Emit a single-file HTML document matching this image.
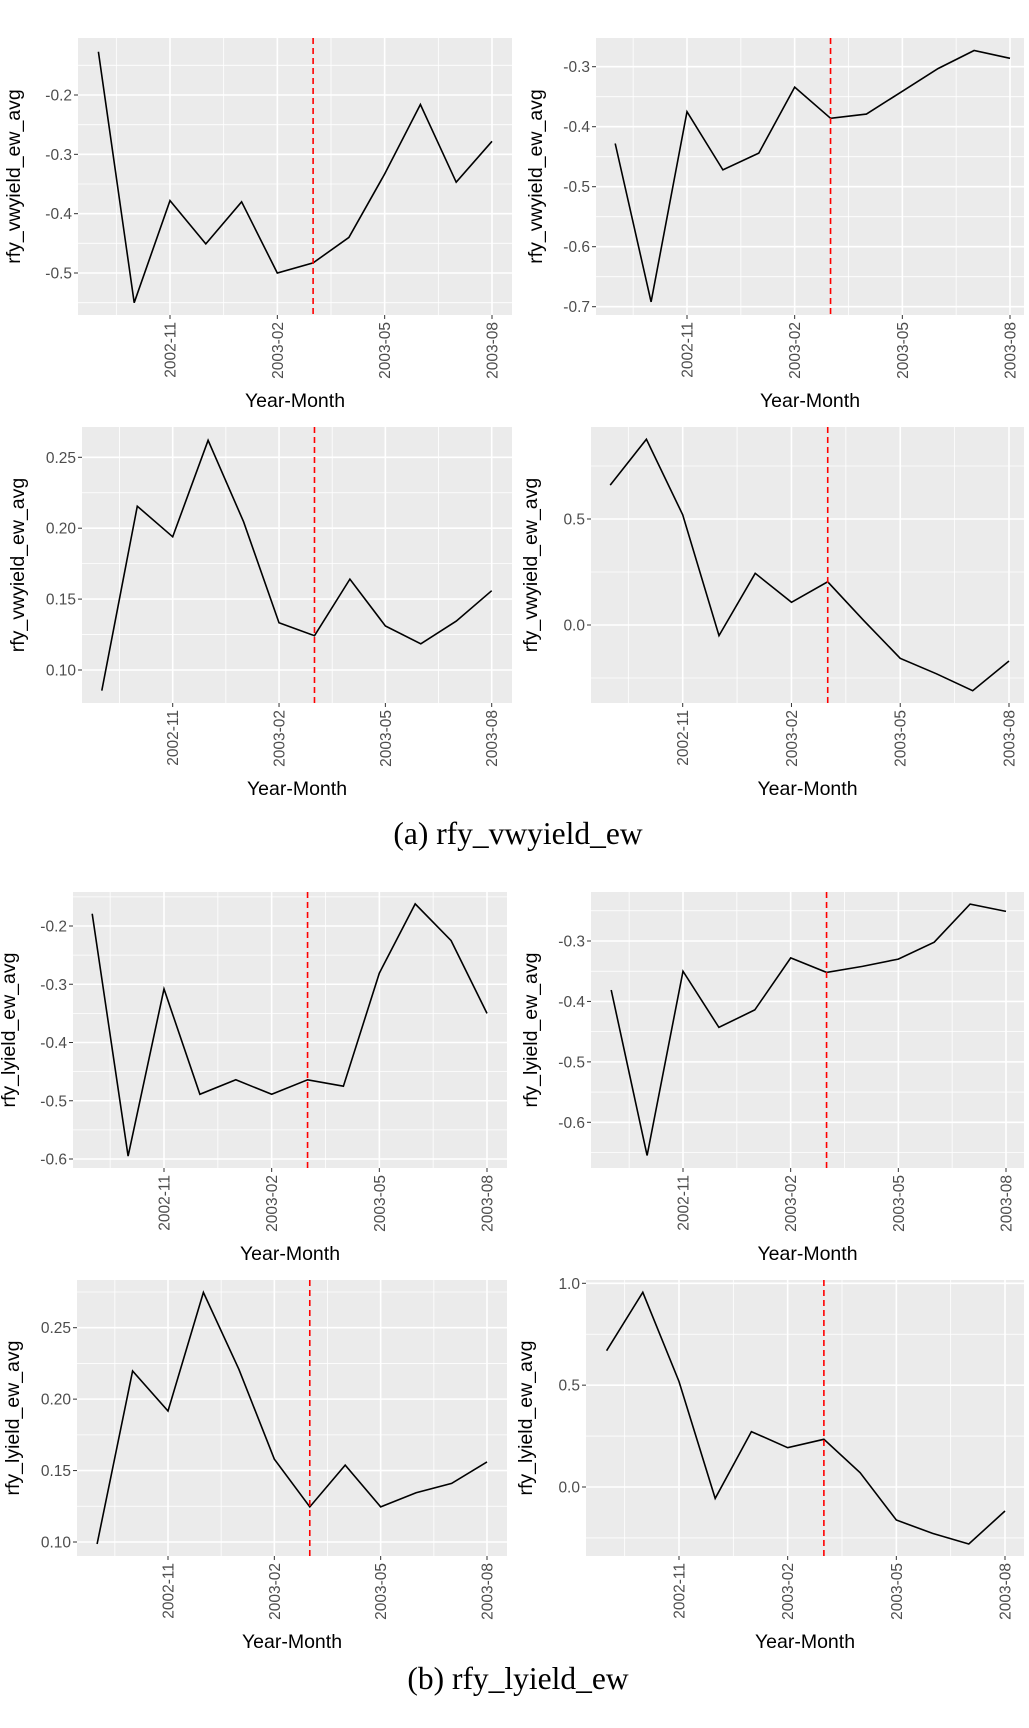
<!DOCTYPE html>
<html><head><meta charset="utf-8"><style>
html,body{margin:0;padding:0;background:#fff;}
svg{display:block;}
</style></head><body>
<svg id="fig" width="1029" height="1728" xmlns="http://www.w3.org/2000/svg">
<text x="518" y="844" font-family="Liberation Serif, serif" font-size="31.5" text-anchor="middle" fill="#000">(a) rfy_vwyield_ew</text>
<text x="518" y="1689" font-family="Liberation Serif, serif" font-size="31.5" text-anchor="middle" fill="#000">(b) rfy_lyield_ew</text>
</svg>
<script>
// months 2002-09 .. 2003-08
const months = ["2002-09","2002-10","2002-11","2002-12","2003-01","2003-02","2003-03","2003-04","2003-05","2003-06","2003-07","2003-08"];
const xTickLabels = ["2002-11","2003-02","2003-05","2003-08"];
const eventMonth = "2003-03";

const vwSeries1 = [-0.127,-0.550,-0.378,-0.451,-0.380,-0.500,-0.483,-0.440,-0.333,-0.216,-0.347,-0.278];
const vwSeries2 = [-0.428,-0.692,-0.375,-0.472,-0.444,-0.334,-0.386,-0.379,-0.341,-0.303,-0.273,-0.286];
const vwSeries3 = [0.0855,0.2155,0.1939,0.2620,0.2045,0.1333,0.1242,0.1641,0.1310,0.1185,0.1345,0.1559];
const vwSeries4 = [0.660,0.876,0.520,-0.050,0.244,0.107,0.204,0.020,-0.157,-0.230,-0.310,-0.170];
const lySeries1 = [-0.179,-0.595,-0.308,-0.489,-0.464,-0.489,-0.464,-0.475,-0.281,-0.162,-0.225,-0.350];
const lySeries2 = [-0.381,-0.655,-0.350,-0.443,-0.414,-0.328,-0.352,-0.342,-0.330,-0.302,-0.239,-0.251];
const lySeries3 = [0.0986,0.2197,0.1917,0.2747,0.2209,0.1580,0.1246,0.1538,0.1246,0.1345,0.1410,0.1561];
const lySeries4 = [0.669,0.956,0.518,-0.056,0.272,0.193,0.234,0.070,-0.162,-0.228,-0.280,-0.118];

const yTicks1 = [-0.5,-0.4,-0.3,-0.2];
const yTicks2 = [-0.7,-0.6,-0.5,-0.4,-0.3];
const yTicks3 = [0.10,0.15,0.20,0.25];
const yTicks4 = [0.0,0.5];
const yTicks5 = [-0.6,-0.5,-0.4,-0.3,-0.2];
const yTicks6 = [-0.6,-0.5,-0.4,-0.3];
const yTicks7 = [0.10,0.15,0.20,0.25];
const yTicks8 = [0.0,0.5,1.0];

const NS="http://www.w3.org/2000/svg";
const svg=document.getElementById('fig');
function mk(tag,attrs,parent){const e=document.createElementNS(NS,tag);for(const k in attrs)e.setAttribute(k,attrs[k]);(parent||svg).appendChild(e);return e;}

const layouts=[
 {L:78,R:512,T:38,B:315,xa:170,xb:492,va:-0.2,pa:95,vb:-0.5,pb:273,side:'l'},
 {L:596,R:1024,T:38,B:315,xa:687,xb:1010,va:-0.3,pa:66.7,vb:-0.7,pb:306.7,side:'r'},
 {L:82,R:512,T:427,B:703,xa:172.7,xb:491.7,va:0.25,pa:457.3,vb:0.10,pb:670,side:'l'},
 {L:591,R:1024,T:427,B:703,xa:682.7,xb:1009,va:0.5,pa:519,vb:0.0,pb:625,side:'r'},
 {L:73,R:507,T:892,B:1168,xa:164,xb:487,va:-0.2,pa:926,vb:-0.6,pb:1159,side:'l'},
 {L:591,R:1024,T:892,B:1168,xa:683,xb:1006,va:-0.3,pa:941,vb:-0.6,pb:1122.3,side:'r'},
 {L:77,R:507,T:1280,B:1556,xa:168,xb:487,va:0.25,pa:1327.7,vb:0.10,pb:1542,side:'l'},
 {L:586,R:1024,T:1280,B:1556,xa:679,xb:1005,va:1.0,pa:1283.3,vb:0.0,pb:1487,side:'r'}
];
const seriesList=[vwSeries1,vwSeries2,vwSeries3,vwSeries4,lySeries1,lySeries2,lySeries3,lySeries4];
const tickList=[yTicks1,yTicks2,yTicks3,yTicks4,yTicks5,yTicks6,yTicks7,yTicks8];
const titles=["rfy_vwyield_ew_avg","rfy_vwyield_ew_avg","rfy_vwyield_ew_avg","rfy_vwyield_ew_avg","rfy_lyield_ew_avg","rfy_lyield_ew_avg","rfy_lyield_ew_avg","rfy_lyield_ew_avg"];

function fmt(v,ticks){
  const dec = ticks.some(t=>Math.abs(Math.round(t*10)-t*10)>1e-9)?2:1;
  return v.toFixed(dec);
}

layouts.forEach((lay,pi)=>{
  const g=mk('g',{});
  
  
  const mStep=(lay.xb-lay.xa)/9;
  const xS=i=>lay.xa+(i-2)*mStep;
  const yScale=(lay.pb-lay.pa)/(lay.vb-lay.va);
  const yS=v=>lay.pa+(v-lay.va)*yScale;
  const bg=mk('rect',{x:lay.L,y:lay.T,width:lay.R-lay.L,height:lay.B-lay.T,fill:'#ebebeb'},g);
  
  
  const ticks=tickList[pi];
  const step=ticks[1]-ticks[0];
  for(let k=-6;k<ticks.length+6;k++){
    const v=ticks[0]+(k-0.5)*step;const y=yS(v);
    if(y>lay.T&&y<lay.B){const l=mk('line',{x1:lay.L,x2:lay.R,y1:y,y2:y,stroke:'#fff','stroke-width':0.8},g);}
  }
  for(let k=-1;k<4;k++){
    const x=xS(2+k*3+1.5);
    if(x>lay.L&&x<lay.R){const l=mk('line',{x1:x,x2:x,y1:lay.T,y2:lay.B,stroke:'#fff','stroke-width':0.8},g);}
  }
  ticks.forEach(v=>{
    const y=yS(v);
    const l=mk('line',{x1:lay.L,x2:lay.R,y1:y,y2:y,stroke:'#fff','stroke-width':1.6},g);
    
    
    mk('line',{x1:lay.L-4,x2:lay.L,y1:y,y2:y,stroke:'#333','stroke-width':1},g);
    const t=mk('text',{x:lay.L-6,y:y+5.5,'text-anchor':'end','font-family':'Liberation Sans, sans-serif','font-size':15.5,fill:'#4d4d4d'},g);
    
    
    t.textContent=fmt(v,ticks);
  });
  xTickLabels.forEach(lbl=>{
    const i=months.indexOf(lbl);const x=xS(i);
    const l=mk('line',{x1:x,x2:x,y1:lay.T,y2:lay.B,stroke:'#fff','stroke-width':1.6},g);
    
    
    mk('line',{x1:x,x2:x,y1:lay.B,y2:lay.B+4,stroke:'#333','stroke-width':1},g);
    const ty=lay.B+7;
    const t=mk('text',{x:x+5.5,y:ty,transform:`rotate(-90 ${x+5.5} ${ty})`,'text-anchor':'end','font-family':'Liberation Sans, sans-serif','font-size':15.5,fill:'#4d4d4d'},g);
    
    
    t.textContent=lbl;
  });
  const s=seriesList[pi];
  const pts=s.map((v,i)=>xS(i).toFixed(1)+','+yS(v).toFixed(1)).join(' ');
  const pl=mk('polyline',{points:pts,fill:'none',stroke:'#000','stroke-width':1.6,'stroke-linejoin':'miter'},g);
  
  
  const ex=xS(months.indexOf(eventMonth));
  const el=mk('line',{x1:ex,x2:ex,y1:lay.T,y2:lay.B,stroke:'#ff0000','stroke-width':1.6,'stroke-dasharray':'6,4'},g);
  
  
  const cx=(lay.L+lay.R)/2;
  const xt=mk('text',{x:cx,y:lay.B+92,'text-anchor':'middle','font-family':'Liberation Sans, sans-serif','font-size':19.5,fill:'#000'},g);
  
  
  xt.textContent='Year-Month';
  const yx=lay.L-(lay.side==='l'?58:54);const yc=(lay.T+lay.B)/2;
  const yt=mk('text',{x:yx,y:yc,transform:`rotate(-90 ${yx} ${yc})`,'text-anchor':'middle','font-family':'Liberation Sans, sans-serif','font-size':19.5,fill:'#000'},g);
  
  
  yt.textContent=titles[pi];
});
</script>
</body></html>
